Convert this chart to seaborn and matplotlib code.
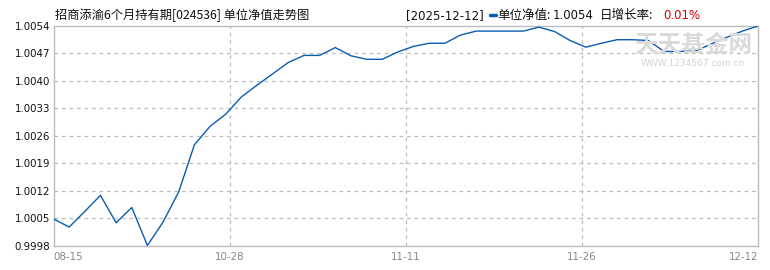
import numpy as np
import pandas as pd
import matplotlib
matplotlib.use("Agg")
import matplotlib.pyplot as plt
from matplotlib.lines import Line2D
import seaborn as sns

# ---- data ----
nav_values = [
    1.00048, 1.00027, 1.00067, 1.00108, 1.00038, 1.00077, 0.99980, 1.00040,
    1.00117, 1.00237, 1.00284, 1.00315, 1.00359, 1.00389, 1.00418, 1.00447,
    1.00465, 1.00465, 1.00485, 1.00464, 1.00455, 1.00455, 1.00474, 1.00488,
    1.00496, 1.00496, 1.00517, 1.00527, 1.00527, 1.00527, 1.00527, 1.00537,
    1.00526, 1.00503, 1.00486, 1.00496, 1.00505, 1.00505, 1.00503, 1.00475,
    1.00475, 1.00476, 1.00494, 1.00511, 1.00527, 1.00540,
]
x_tick_labels = ["08-15", "10-28", "11-11", "11-26", "12-12"]
y_ticks = [0.9998, 1.0005, 1.0012, 1.0019, 1.0026, 1.0033, 1.0040, 1.0047, 1.0054]
title_text = "招商添渝6个月持有期[024536] 单位净值走势图"
date_text = "[2025-12-12]"
nav_label = "单位净值:"
nav_last = "1.0054"
growth_label = "日增长率:"
growth_value = "0.01%"

df = pd.DataFrame({"idx": np.arange(len(nav_values)), "nav": nav_values})

W, H = 770, 270
fig = plt.figure(figsize=(W / 100, H / 100), dpi=100)
sns.set_style("white")
plt.rcParams["font.family"] = ["Noto Sans CJK SC", "DejaVu Sans"]

left, right, top, bottom = 53.5, 758, 26, 245.5
ax = fig.add_axes([left / W, 1 - bottom / H, (right - left) / W, (bottom - top) / H])

n = len(nav_values)
xt = np.linspace(0, n - 1, len(x_tick_labels))

# grid
grid_kw = dict(color="#bdbdbd", lw=0.9, ls=(0, (3, 3)), zorder=1)
for y in y_ticks[1:-1]:
    ax.axhline(y, **grid_kw)
for x in xt[1:-1]:
    ax.axvline(x, **grid_kw)

sns.lineplot(data=df, x="idx", y="nav", ax=ax, color="#0a5cb0", lw=1.0, zorder=3)

ax.set_xlim(0, n - 1)
ax.set_ylim(y_ticks[0], y_ticks[-1])
ax.set_xticks(xt)
ax.set_xticklabels(x_tick_labels)
ax.set_yticks(y_ticks)
ax.set_yticklabels([f"{v:.4f}" for v in y_ticks])
ax.set_xlabel("")
ax.set_ylabel("")
for s in ax.spines.values():
    s.set_color("#bcbcbc")
    s.set_linewidth(1.0)
ax.tick_params(axis="both", length=0)
ax.tick_params(axis="y", pad=2.5, labelsize=7.4, labelcolor="#111111")
ax.tick_params(axis="x", pad=5, labelsize=7.4, labelcolor="#888888")
for lab in ax.get_yticklabels():
    lab.set_family(["DejaVu Sans"])
for lab in ax.get_xticklabels():
    lab.set_family(["DejaVu Sans"])
xl = ax.get_xticklabels()
xl[0].set_ha("left")
xl[-1].set_ha("right")

def fx(px):
    return px / W

def fy(py):
    return 1 - py / H

# title and header
fig.text(fx(55), fy(15.5), title_text, fontsize=8.8, color="#111111", va="center", ha="left")
fig.text(fx(406), fy(15.5), date_text, fontsize=8.5, color="#111111", va="center", ha="left",
         family=["DejaVu Sans"])
fig.add_artist(Line2D([fx(490), fx(496)], [fy(15.5), fy(15.5)], color="#0a5cb0", lw=2.5))
fig.text(fx(497), fy(15.5), nav_label, fontsize=9, color="#111111", va="center", ha="left")
fig.text(fx(553), fy(15.5), nav_last, fontsize=8.5, color="#111111", va="center", ha="left",
         family=["DejaVu Sans"])
fig.text(fx(600), fy(15.5), growth_label, fontsize=9, color="#111111", va="center", ha="left")
fig.text(fx(663), fy(15.5), growth_value, fontsize=8.5, color="#dd0000", va="center", ha="left",
         family=["DejaVu Sans"])

# watermark
fig.text(fx(693), fy(45), "天天基金网", fontsize=17, color="#dadada", va="center", ha="center",
         fontweight="bold", zorder=0)
fig.text(fx(693), fy(63), "WWW.1234567.com.cn", fontsize=6.5, color="#d2d2d2", va="center",
         ha="center", family=["DejaVu Sans"], zorder=0)

fig.savefig("out.png", dpi=100)
